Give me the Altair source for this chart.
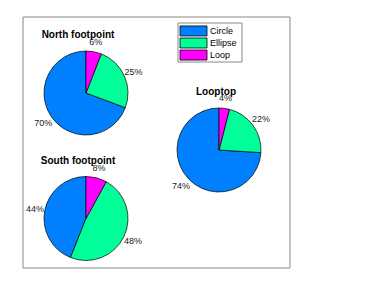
import altair as alt
import pandas as pd

categories = ["Circle", "Ellipse", "Loop"]
colors = ["#0080ff", "#00ff99", "#ff00ff"]
panels = ["North footpoint", "South footpoint", "Looptop"]
north = [70, 25, 6]
south = [44, 48, 8]
looptop = [74, 22, 4]
# clockwise drawing order from 12 o'clock: Loop, Ellipse, Circle
draw_order = [2, 1, 0]

rows = []
for panel, vals in zip(panels, [north, south, looptop]):
    for cat, v, o in zip(categories, vals, draw_order):
        rows.append({"panel": panel, "cat": cat, "value": v, "ord": o, "label": f"{v}%"})
df = pd.DataFrame(rows)
legend_df = pd.DataFrame({"cat": categories})

FONT = "Liberation Sans"
color_scale = alt.Scale(domain=categories, range=colors)

# layout (chart coords) for each panel: pie centre and title position
layout = {
    "North footpoint": dict(cx=78, cy=85, tx=70, ty=27),
    "South footpoint": dict(cx=78, cy=210.5, tx=70, ty=153),
    "Looptop": dict(cx=211, cy=142, tx=208, ty=84),
}
R = 42

frame = alt.Chart(pd.DataFrame({"a": [0]})).mark_rect(
    fill="white", stroke="#888888", strokeWidth=1
).encode(x=alt.value(15), x2=alt.value(282), y=alt.value(9), y2=alt.value(260))

legend_box = alt.Chart(pd.DataFrame({"a": [0]})).mark_rect(
    fill="white", stroke="#888888", strokeWidth=1
).encode(x=alt.value(170), x2=alt.value(234), y=alt.value(15), y2=alt.value(54))

row_scale = alt.Scale(type="band", domain=categories, range=[17, 53],
                      paddingInner=0.17, paddingOuter=0.08)
swatches = alt.Chart(legend_df).mark_rect(stroke="black", strokeWidth=0.8).encode(
    y=alt.Y("cat:N", scale=row_scale, axis=None),
    x=alt.value(172), x2=alt.value(199),
    color=alt.Color("cat:N", scale=color_scale, legend=None),
)
sw_labels = alt.Chart(legend_df).mark_text(
    align="left", baseline="middle", font=FONT, fontSize=9, color="black"
).encode(
    y=alt.Y("cat:N", scale=row_scale, axis=None),
    x=alt.value(202),
    text="cat:N",
)

layers = [frame]
for panel in panels:
    L = layout[panel]
    base = alt.Chart(df).transform_filter(alt.datum.panel == panel)
    arc = base.mark_arc(stroke="black", strokeWidth=0.7, radius=R).encode(
        theta=alt.Theta("value:Q", stack="normalize"),
        order=alt.Order("ord:Q"),
        color=alt.Color("cat:N", scale=color_scale, legend=None),
        x=alt.value(L["cx"]), y=alt.value(L["cy"]),
    )
    txt = base.mark_text(radius=R + 10, font=FONT, fontSize=9, color="#222222").encode(
        theta=alt.Theta("value:Q", stack="normalize"),
        order=alt.Order("ord:Q"),
        text="label:N",
        x=alt.value(L["cx"]), y=alt.value(L["cy"]),
    )
    title = alt.Chart(pd.DataFrame({"t": [panel]})).mark_text(
        font=FONT, fontSize=10, fontWeight="bold", color="black"
    ).encode(text="t:N", x=alt.value(L["tx"]), y=alt.value(L["ty"]))
    layers += [arc, txt, title]

layers += [legend_box, swatches, sw_labels]

chart = alt.layer(*layers).resolve_scale(theta="independent").properties(
    width=366, height=270, padding=0, autosize="none"
).configure_view(stroke=None)

chart.save("out.html", embed_options={"renderer": "svg", "actions": False})
